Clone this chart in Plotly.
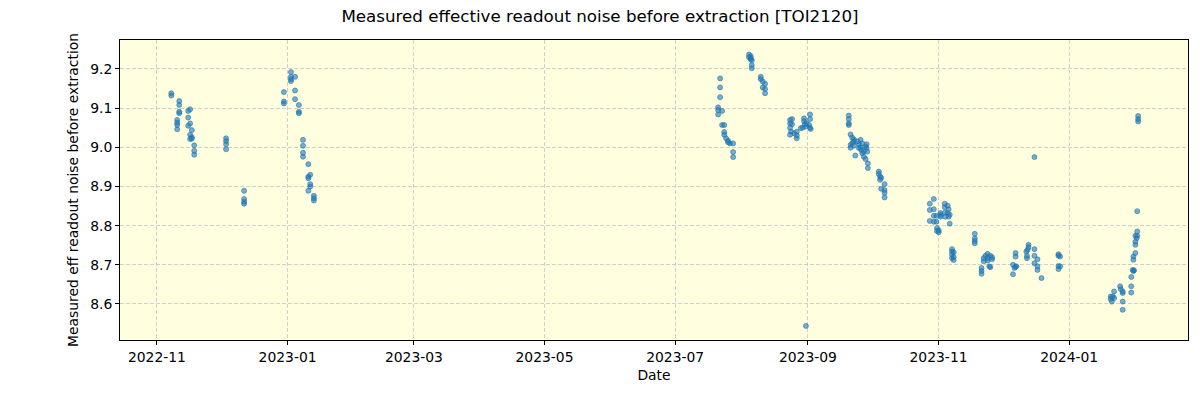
import plotly.graph_objects as go

title_text = "Measured effective readout noise before extraction [TOI2120]"
x_label = "Date"
y_label = "Measured eff readout noise before extraction"

tick_dates = ["2022-11-01", "2023-01-01", "2023-03-01", "2023-05-01",
              "2023-07-01", "2023-09-01", "2023-11-01", "2024-01-01"]
tick_labels = ["2022-11", "2023-01", "2023-03", "2023-05",
               "2023-07", "2023-09", "2023-11", "2024-01"]

season1_dates = [
    "2022-11-07 17:00", "2022-11-07 17:00",
    "2022-11-11 10:00", "2022-11-11 10:00", "2022-11-11 10:00", "2022-11-11 10:00",
    "2022-11-10 11:00", "2022-11-10 11:00", "2022-11-10 11:00", "2022-11-10 11:00",
    "2022-11-16 12:00", "2022-11-15 14:00", "2022-11-15 14:00", "2022-11-16 12:00",
    "2022-11-15 14:00", "2022-11-17 07:00", "2022-11-16 12:00", "2022-11-17 07:00",
    "2022-11-17 07:00", "2022-11-16 12:00",
    "2022-11-18 10:00", "2022-11-18 10:00", "2022-11-18 10:00",
    "2022-12-03 07:00", "2022-12-03 07:00", "2022-12-03 07:00", "2022-12-03 07:00",
    "2022-12-11 17:00", "2022-12-11 17:00", "2022-12-11 17:00", "2022-12-11 17:00",
    "2022-12-30 07:00", "2022-12-30 07:00", "2022-12-30 07:00",
    "2023-01-02 14:00", "2023-01-02 14:00", "2023-01-02 14:00", "2023-01-02 14:00",
    "2023-01-04 12:00", "2023-01-04 12:00", "2023-01-04 12:00",
    "2023-01-06 07:00", "2023-01-06 07:00", "2023-01-06 07:00",
    "2023-01-08 05:00", "2023-01-08 05:00", "2023-01-08 05:00", "2023-01-08 05:00",
    "2023-01-10 17:00", "2023-01-10 17:00", "2023-01-10 17:00", "2023-01-11 14:00",
    "2023-01-11 14:00", "2023-01-11 14:00", "2023-01-10 17:00",
    "2023-01-13 07:00", "2023-01-13 07:00", "2023-01-13 07:00",
]
season1_noise = [
    9.138, 9.132,
    9.118, 9.108, 9.091, 9.087,
    9.070, 9.063, 9.057, 9.046,
    9.097, 9.093, 9.076, 9.061,
    9.055, 9.044, 9.032, 9.026,
    9.022, 9.021,
    9.005, 8.991, 8.981,
    9.023, 9.016, 9.008, 8.995,
    8.889, 8.868, 8.861, 8.856,
    9.141, 9.117, 9.112,
    9.192, 9.180, 9.174, 9.169,
    9.180, 9.145, 9.123,
    9.108, 9.091, 9.087,
    9.019, 9.004, 8.986, 8.976,
    8.957, 8.925, 8.921, 8.930,
    8.906, 8.900, 8.889,
    8.876, 8.870, 8.864,
]

season2_dates = [
    "2023-07-22 00:00", "2023-07-22 00:00", "2023-07-22 00:00",
    "2023-07-21 02:00", "2023-07-21 02:00", "2023-07-21 02:00", "2023-07-22 22:00",
    "2023-07-22 22:00", "2023-07-23 22:00",
    "2023-07-23 22:00", "2023-07-23 22:00",
    "2023-07-24 19:00", "2023-07-25 17:00", "2023-07-26 14:00", "2023-07-25 17:00",
    "2023-07-28 02:00", "2023-07-28 02:00", "2023-07-28 02:00",
    "2023-08-04 12:00", "2023-08-04 12:00", "2023-08-05 07:00", "2023-08-05 07:00",
    "2023-08-05 19:00", "2023-08-05 07:00",
    "2023-08-05 19:00", "2023-08-05 19:00",
    "2023-08-10 00:00", "2023-08-10 00:00", "2023-08-10 22:00", "2023-08-12 00:00",
    "2023-08-10 22:00", "2023-08-12 00:00", "2023-08-12 00:00",
    "2023-08-23 16:00", "2023-08-24 14:00", "2023-08-23 16:00", "2023-08-24 14:00",
    "2023-08-23 16:00", "2023-08-24 03:00", "2023-08-23 16:00", "2023-08-25 12:00",
    "2023-08-26 19:00", "2023-08-26 19:00", "2023-08-26 19:00", "2023-08-28 17:00",
    "2023-08-29 14:00", "2023-08-30 05:00", "2023-08-30 05:00", "2023-08-30 12:00",
    "2023-08-31 02:00", "2023-08-31 10:00", "2023-09-01 12:00", "2023-09-02 00:00",
    "2023-09-02 00:00", "2023-09-02 00:00", "2023-09-02 07:00",
    "2023-08-31 02:00",
    "2023-09-20 02:00", "2023-09-20 02:00", "2023-09-20 02:00", "2023-09-20 02:00",
    "2023-09-20 22:00", "2023-09-21 17:00", "2023-09-22 12:00", "2023-09-21 17:00",
    "2023-09-22 12:00", "2023-09-20 22:00", "2023-09-20 22:00", "2023-09-23 03:00",
    "2023-09-24 02:00", "2023-09-24 20:00", "2023-09-25 14:00", "2023-09-24 20:00",
    "2023-09-25 22:00", "2023-09-26 10:00", "2023-09-27 03:00", "2023-09-27 22:00",
    "2023-09-28 10:00", "2023-09-28 17:00", "2023-09-27 03:00", "2023-09-27 22:00",
    "2023-09-29 00:00", "2023-09-29 00:00",
    "2023-09-26 10:00", "2023-09-25 14:00", "2023-09-28 10:00", "2023-09-22 12:00",
    "2023-10-04 03:00", "2023-10-04 03:00", "2023-10-04 17:00", "2023-10-05 05:00",
    "2023-10-04 17:00",
    "2023-10-06 19:00", "2023-10-05 05:00", "2023-10-06 19:00", "2023-10-06 19:00",
    "2023-10-06 19:00",
]
season2_noise = [
    9.176, 9.153, 9.128,
    9.102, 9.095, 9.084, 9.093,
    9.057, 9.057,
    9.039, 9.032,
    9.023, 9.017, 9.010, 9.013,
    9.010, 8.988, 8.975,
    9.237, 9.230, 9.233, 9.225,
    9.222, 9.228,
    9.210, 9.202,
    9.180, 9.174, 9.168, 9.162,
    9.153, 9.149, 9.138,
    9.070, 9.072, 9.061, 9.059,
    9.050, 9.040, 9.032, 9.036,
    9.040, 9.030, 9.023, 9.049,
    9.050, 9.074, 9.067, 9.059,
    9.053, 9.061, 9.057, 9.084,
    9.072, 9.050, 9.047,
    8.544,
    9.081, 9.072, 9.061, 9.057,
    9.033, 9.025, 9.020, 9.011,
    9.015, 9.006, 8.999, 8.979,
    9.015, 9.008, 9.019, 8.998,
    8.993, 8.985, 8.989, 9.002,
    8.998, 8.989, 8.976, 8.970,
    8.959, 8.947,
    9.010, 9.000, 9.008, 9.004,
    8.938, 8.932, 8.917, 8.922,
    8.925,
    8.906, 8.894, 8.891, 8.884,
    8.872,
]

season3_dates = [
    "2023-10-29 19:00", "2023-10-27 22:00", "2023-10-27 22:00", "2023-10-29 19:00",
    "2023-10-29 19:00", "2023-10-31 00:00", "2023-10-27 22:00", "2023-10-29 19:00",
    "2023-10-31 00:00", "2023-10-31 07:00", "2023-11-01 02:00", "2023-11-01 02:00",
    "2023-10-31 07:00",
    "2023-11-01 22:00", "2023-11-01 22:00", "2023-11-01 22:00",
    "2023-11-03 22:00", "2023-11-03 22:00", "2023-11-05 07:00", "2023-11-05 17:00",
    "2023-11-03 22:00", "2023-11-05 07:00", "2023-11-06 05:00", "2023-11-04 05:00",
    "2023-11-05 17:00",
    "2023-11-06 05:00",
    "2023-11-07 07:00", "2023-11-07 07:00", "2023-11-08 02:00", "2023-11-07 07:00",
    "2023-11-08 02:00", "2023-11-07 07:00", "2023-11-08 02:00",
    "2023-11-17 22:00", "2023-11-17 22:00", "2023-11-17 22:00", "2023-11-17 22:00",
    "2023-11-21 02:00", "2023-11-21 02:00", "2023-11-21 02:00",
    "2023-11-22 02:00", "2023-11-22 02:00", "2023-11-22 22:00", "2023-11-23 22:00",
    "2023-11-25 05:00", "2023-11-26 00:00", "2023-11-24 17:00", "2023-11-25 05:00",
    "2023-11-23 22:00", "2023-11-23 22:00", "2023-11-26 00:00",
    "2023-12-05 19:00", "2023-12-07 00:00", "2023-12-07 07:00", "2023-12-05 19:00",
    "2023-12-06 12:00",
    "2023-12-07 00:00", "2023-12-07 00:00",
    "2023-12-12 00:00", "2023-12-12 07:00", "2023-12-12 07:00", "2023-12-13 00:00",
    "2023-12-13 00:00", "2023-12-12 14:00",
    "2023-12-15 19:00", "2023-12-15 19:00", "2023-12-17 05:00", "2023-12-15 19:00",
    "2023-12-17 05:00", "2023-12-17 05:00", "2023-12-19 02:00",
    "2023-12-15 19:00",
    "2023-12-27 00:00", "2023-12-27 19:00", "2023-12-27 00:00", "2023-12-27 19:00",
    "2023-12-27 00:00", "2023-12-27 00:00",
    "2024-01-20 10:00", "2024-01-21 10:00", "2024-01-22 00:00", "2024-01-20 22:00",
    "2024-01-22 00:00", "2024-01-20 10:00",
    "2024-01-24 19:00", "2024-01-25 02:00", "2024-01-26 00:00", "2024-01-26 00:00",
    "2024-01-26 00:00", "2024-01-26 00:00",
    "2024-01-30 00:00", "2024-01-30 00:00", "2024-01-30 00:00",
    "2024-01-30 17:00", "2024-01-31 07:00", "2024-01-31 00:00",
    "2024-01-31 00:00", "2024-01-31 00:00", "2024-01-31 22:00",
    "2024-01-31 22:00", "2024-01-31 22:00", "2024-02-01 12:00", "2024-01-31 22:00",
    "2024-02-01 19:00", "2024-02-01 19:00",
    "2024-02-01 19:00",
    "2024-02-02 05:00", "2024-02-02 05:00", "2024-02-02 05:00",
]
season3_noise = [
    8.868, 8.856, 8.840, 8.842,
    8.825, 8.825, 8.812, 8.810,
    8.810, 8.794, 8.788, 8.783,
    8.786,
    8.832, 8.823, 8.827,
    8.856, 8.847, 8.851, 8.842,
    8.833, 8.832, 8.828, 8.823,
    8.823,
    8.805,
    8.740, 8.734, 8.732, 8.726,
    8.720, 8.717, 8.712,
    8.779, 8.767, 8.761, 8.755,
    8.692, 8.684, 8.677,
    8.717, 8.709, 8.723, 8.728,
    8.723, 8.714, 8.696, 8.694,
    8.711, 8.717, 8.719,
    8.700, 8.695, 8.696, 8.676,
    8.692,
    8.730, 8.721,
    8.734, 8.723, 8.717, 8.751,
    8.745, 8.738,
    8.740, 8.723, 8.714, 8.704,
    8.696, 8.687, 8.666,
    8.975,
    8.723, 8.721, 8.697, 8.696,
    8.689, 8.727,
    8.619, 8.619, 8.615, 8.606,
    8.632, 8.613,
    8.645, 8.638, 8.632, 8.628,
    8.606, 8.585,
    8.645, 8.629, 8.669,
    8.687, 8.686, 8.684,
    8.721, 8.713, 8.730,
    8.751, 8.759, 8.768, 8.774,
    8.774, 8.785,
    8.837,
    9.080, 9.072, 9.066,
]

dates = season1_dates + season2_dates + season3_dates
noise = season1_noise + season2_noise + season3_noise

x_range = ["2022-10-14 18:00", "2024-02-25 12:00"]
y_range = [8.508, 9.274]

FONT = "DejaVu Sans"
fig = go.Figure()
fig.add_trace(go.Scatter(
    x=dates, y=noise, mode="markers",
    marker=dict(size=5, color="rgba(31,119,180,0.6)",
                line=dict(width=0.8, color="rgba(31,119,180,0.75)")),
    showlegend=False,
))

axis_common = dict(
    showline=True, linecolor="black", linewidth=1, mirror=True,
    ticks="outside", ticklen=4, tickwidth=1, tickcolor="black",
    showgrid=True, gridcolor="rgba(176,176,190,0.6)", griddash="4px,2px", gridwidth=1,
    zeroline=False,
    tickfont=dict(family=FONT, size=13.9, color="black"),
)

fig.update_layout(
    width=1200, height=400,
    margin=dict(l=120, r=12, t=40, b=60),
    paper_bgcolor="white",
    plot_bgcolor="#FFFFE0",
    font=dict(family=FONT, size=13.9, color="black"),
    title=dict(text=title_text, x=0.5, xref="container", xanchor="center",
               y=1 - 16 / 400, yref="container", yanchor="middle",
               font=dict(family=FONT, size=16.7, color="black")),
    xaxis=dict(type="date", range=x_range, tickvals=tick_dates, ticktext=tick_labels,
               title=dict(text=x_label, font=dict(family=FONT, size=13.9), standoff=6),
               **axis_common),
    yaxis=dict(range=y_range, dtick=0.1, tick0=8.6, tickformat=".1f",
               title=dict(text=y_label, font=dict(family=FONT, size=13.9), standoff=8),
               **axis_common),
)

fig.write_html("out.html")
